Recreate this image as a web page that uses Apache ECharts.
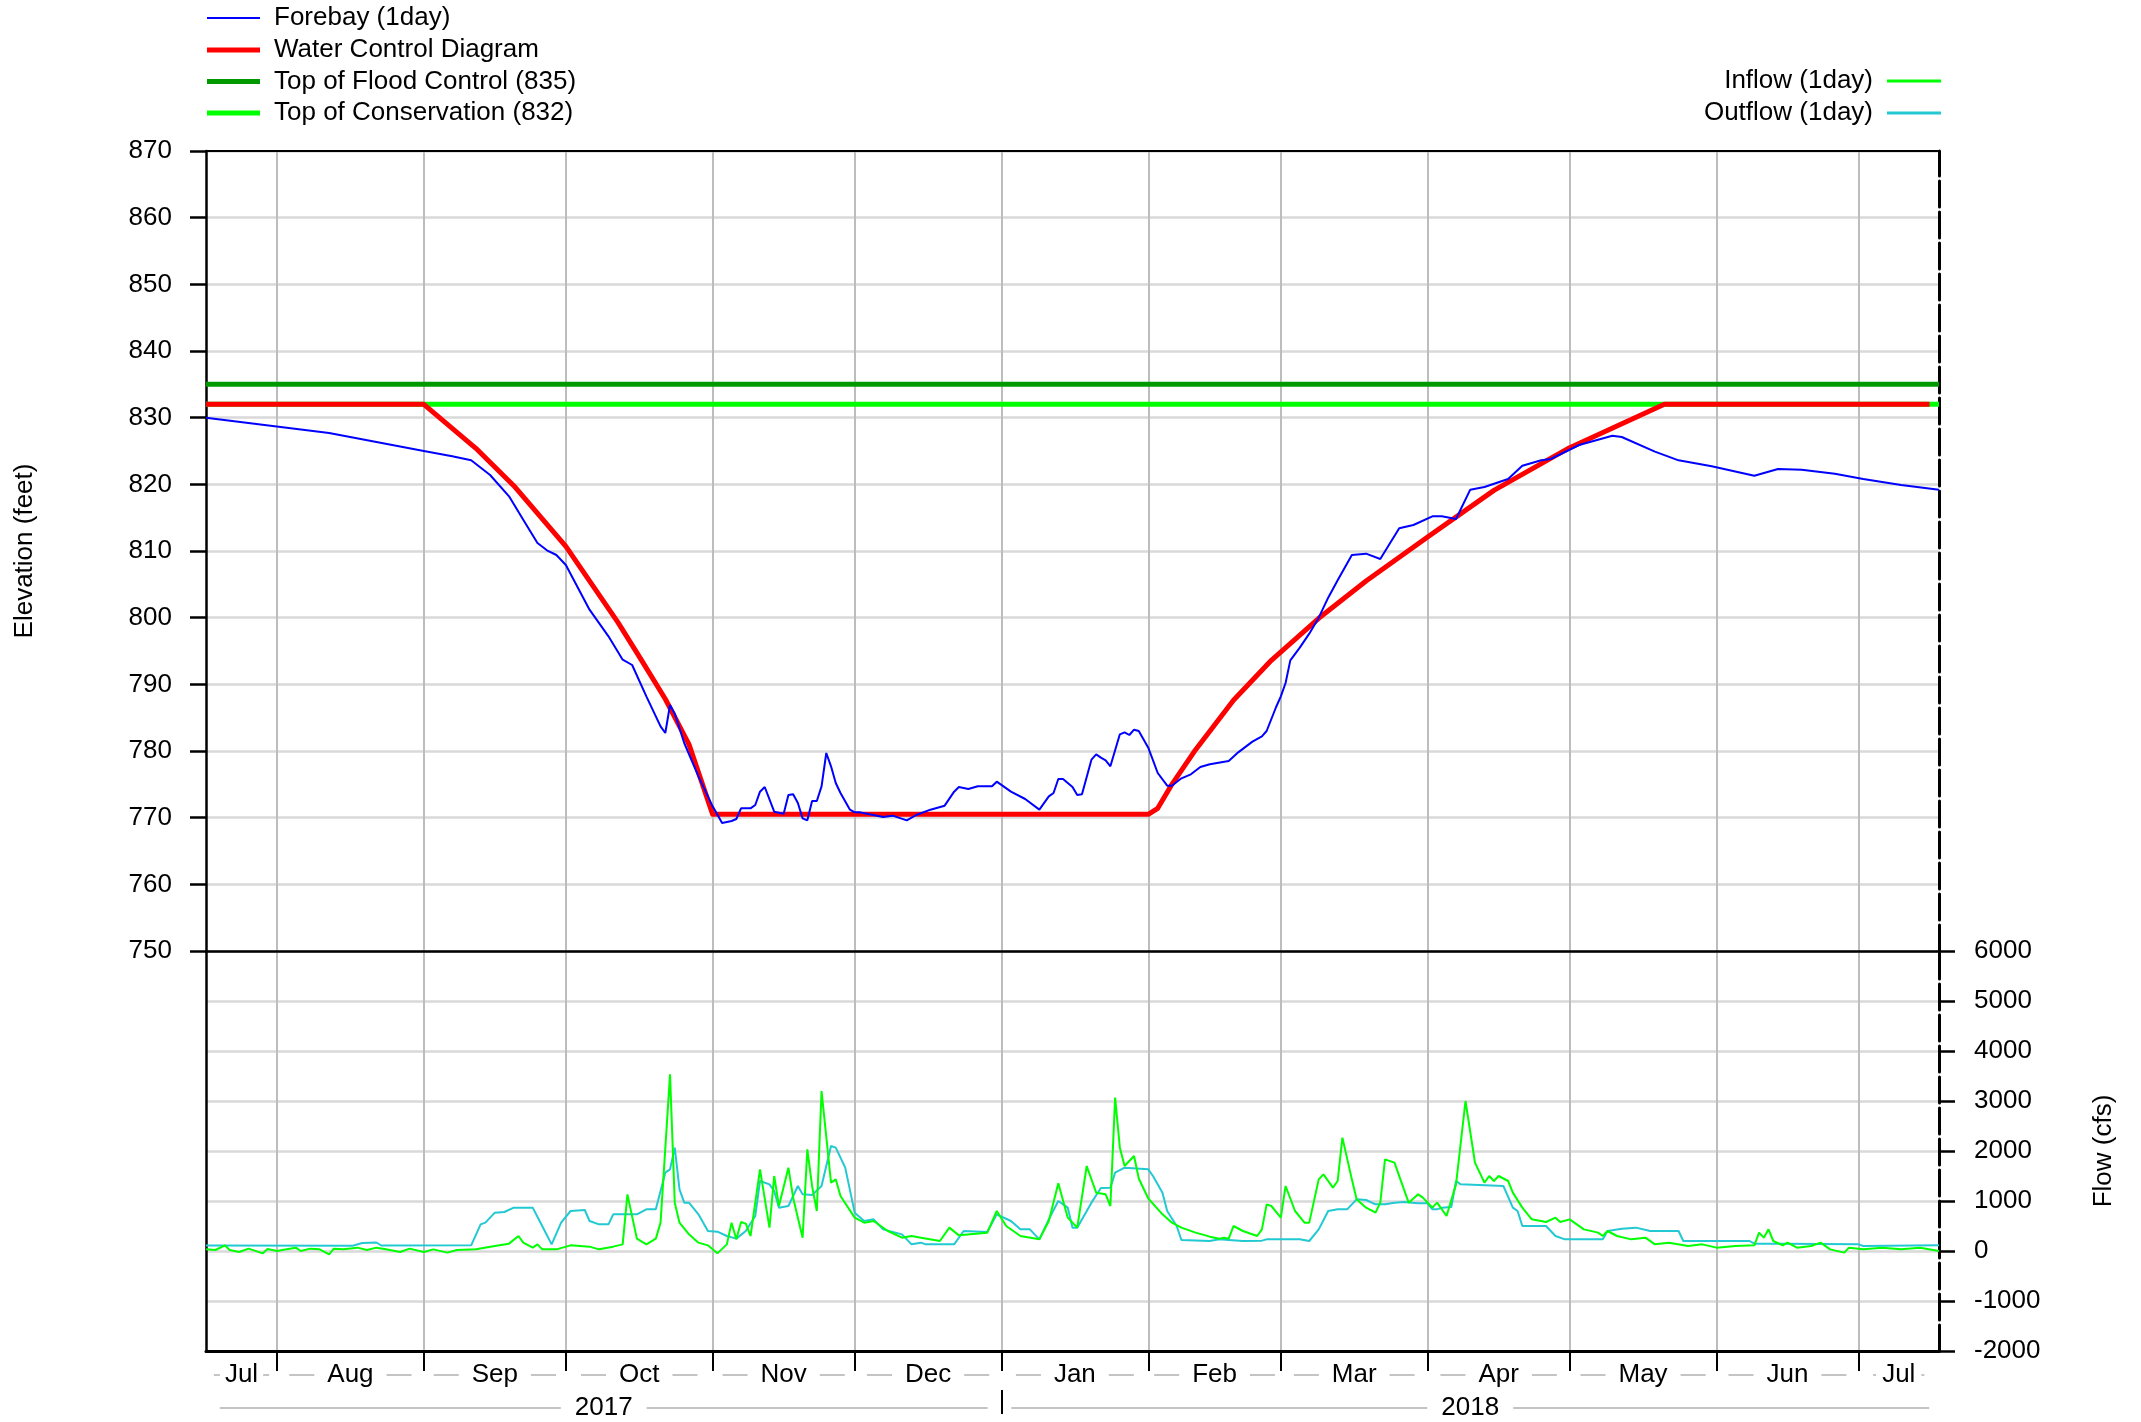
<!DOCTYPE html>
<html><head><meta charset="utf-8">
<script src="https://cdn.jsdelivr.net/npm/echarts@6/dist/echarts.min.js"></script>
<style>html,body{margin:0;padding:0;background:#fff}#c{width:2141px;height:1422px}</style>
</head><body><div id="c"></div>
<script>
// ---------- data ----------
const startDate = '2017-07-17';
const endDate = '2018-07-18';
const monthStarts = ['2017-08-01','2017-09-01','2017-10-01','2017-11-01','2017-12-01','2018-01-01','2018-02-01','2018-03-01','2018-04-01','2018-05-01','2018-06-01','2018-07-01'];
const monthLabels = ['Jul','Aug','Sep','Oct','Nov','Dec','Jan','Feb','Mar','Apr','May','Jun','Jul'];
const yearBoundaries = ['2018-01-01'];
const yearLabels = ['2017','2018'];

const forebayDates = ['2017-07-17','2017-08-12','2017-09-01','2017-09-07','2017-09-11','2017-09-15','2017-09-19','2017-09-22','2017-09-25','2017-09-27','2017-09-29','2017-10-01','2017-10-06','2017-10-10','2017-10-13','2017-10-15','2017-10-18','2017-10-21','2017-10-22','2017-10-23','2017-10-24','2017-10-26','2017-10-29','2017-11-01','2017-11-03','2017-11-05','2017-11-06','2017-11-07','2017-11-09','2017-11-10','2017-11-11','2017-11-12','2017-11-14','2017-11-16','2017-11-17','2017-11-18','2017-11-19','2017-11-20','2017-11-21','2017-11-22','2017-11-23','2017-11-24','2017-11-25','2017-11-26','2017-11-27','2017-11-28','2017-11-30','2017-12-01','2017-12-02','2017-12-07','2017-12-09','2017-12-12','2017-12-14','2017-12-17','2017-12-20','2017-12-22','2017-12-23','2017-12-25','2017-12-27','2017-12-30','2017-12-31','2018-01-03','2018-01-06','2018-01-09','2018-01-11','2018-01-12','2018-01-13','2018-01-14','2018-01-16','2018-01-17','2018-01-18','2018-01-20','2018-01-21','2018-01-22','2018-01-23','2018-01-24','2018-01-26','2018-01-27','2018-01-28','2018-01-29','2018-01-30','2018-02-01','2018-02-03','2018-02-05','2018-02-06','2018-02-08','2018-02-10','2018-02-12','2018-02-14','2018-02-18','2018-02-20','2018-02-23','2018-02-25','2018-02-26','2018-02-28','2018-03-01','2018-03-02','2018-03-03','2018-03-05','2018-03-07','2018-03-09','2018-03-11','2018-03-13','2018-03-16','2018-03-19','2018-03-22','2018-03-26','2018-03-29','2018-04-02','2018-04-04','2018-04-07','2018-04-10','2018-04-13','2018-04-18','2018-04-21','2018-04-25','2018-04-27','2018-05-03','2018-05-10','2018-05-12','2018-05-19','2018-05-24','2018-05-31','2018-06-09','2018-06-14','2018-06-19','2018-06-26','2018-07-02','2018-07-10','2018-07-18'];
const forebayValues = [830.0,827.7,825.0,824.2,823.6,821.4,818.2,814.7,811.2,810.1,809.4,807.9,801.2,797.2,793.7,792.9,788.2,783.7,782.7,786.9,785.6,781.2,776.2,771.7,769.2,769.5,769.8,771.4,771.4,771.9,773.9,774.6,770.9,770.6,773.4,773.5,772.2,769.9,769.6,772.5,772.5,774.7,779.7,777.7,775.2,773.7,771.2,770.8,770.8,770.1,770.3,769.6,770.4,771.2,771.8,773.9,774.6,774.3,774.7,774.7,775.4,773.9,772.8,771.2,773.2,773.7,775.8,775.8,774.6,773.4,773.5,778.7,779.5,779.0,778.6,777.7,782.5,782.8,782.4,783.2,783.0,780.5,776.7,774.8,774.8,775.9,776.5,777.6,778.0,778.5,779.8,781.4,782.2,783.0,786.6,788.2,790.2,793.6,795.5,797.6,800.0,803.0,805.6,809.4,809.6,808.8,813.4,813.9,815.2,815.2,814.8,819.2,819.6,820.8,822.8,823.6,823.8,825.9,827.3,827.1,824.9,823.6,822.7,821.3,822.3,822.2,821.6,820.8,819.9,819.2];

const wcdDates = ['2017-07-17','2017-09-01','2017-09-12','2017-09-20','2017-10-01','2017-10-12','2017-10-17','2017-10-22','2017-10-27','2017-11-01','2018-02-01','2018-02-03','2018-02-06','2018-02-11','2018-02-19','2018-02-27','2018-03-09','2018-03-19','2018-04-01','2018-04-15','2018-05-01','2018-05-21','2018-07-16'];
const wcdValues = [832,832,825.4,819.8,810.7,799.3,793.6,787.8,781.0,770.5,770.5,771.4,775.0,780.2,787.6,793.6,799.9,805.5,812.1,819.1,825.5,832,832];

const guideDates = [startDate, endDate];
const floodControlValues = [835, 835];
const conservationValues = [832, 832];

const outflowDates = ['2017-07-17','2017-08-17','2017-08-19','2017-08-22','2017-08-23','2017-09-11','2017-09-13','2017-09-14','2017-09-16','2017-09-18','2017-09-20','2017-09-24','2017-09-26','2017-09-28','2017-09-30','2017-10-02','2017-10-05','2017-10-06','2017-10-08','2017-10-10','2017-10-11','2017-10-16','2017-10-18','2017-10-20','2017-10-22','2017-10-23','2017-10-24','2017-10-25','2017-10-26','2017-10-27','2017-10-29','2017-10-31','2017-11-02','2017-11-04','2017-11-06','2017-11-08','2017-11-10','2017-11-11','2017-11-13','2017-11-14','2017-11-15','2017-11-17','2017-11-19','2017-11-20','2017-11-22','2017-11-24','2017-11-26','2017-11-27','2017-11-29','2017-12-01','2017-12-03','2017-12-05','2017-12-07','2017-12-11','2017-12-13','2017-12-15','2017-12-16','2017-12-22','2017-12-24','2017-12-29','2017-12-31','2018-01-03','2018-01-05','2018-01-07','2018-01-09','2018-01-11','2018-01-13','2018-01-15','2018-01-16','2018-01-17','2018-01-20','2018-01-22','2018-01-24','2018-01-25','2018-01-27','2018-02-01','2018-02-02','2018-02-04','2018-02-05','2018-02-07','2018-02-08','2018-02-14','2018-02-16','2018-02-18','2018-02-21','2018-02-25','2018-02-26','2018-03-05','2018-03-07','2018-03-09','2018-03-11','2018-03-13','2018-03-15','2018-03-17','2018-03-19','2018-03-21','2018-03-23','2018-03-25','2018-03-27','2018-03-30','2018-04-01','2018-04-02','2018-04-03','2018-04-04','2018-04-06','2018-04-07','2018-04-08','2018-04-17','2018-04-19','2018-04-20','2018-04-21','2018-04-26','2018-04-28','2018-04-30','2018-05-08','2018-05-09','2018-05-12','2018-05-15','2018-05-18','2018-05-24','2018-05-25','2018-06-08','2018-06-09','2018-06-15','2018-07-01','2018-07-02','2018-07-18'];
const outflowValues = [110,105,160,170,110,113,533,567,767,780,867,867,500,133,567,800,820,600,533,533,733,733,833,833,1567,1633,2067,1233,967,967,733,400,387,300,247,400,700,1400,1333,1200,867,900,1300,1133,1120,1300,2100,2067,1667,767,600,633,433,333,133,167,133,133,400,380,733,600,433,433,233,633,1000,867,467,467,967,1260,1267,1567,1667,1633,1500,1167,800,500,220,200,233,220,200,207,233,233,200,433,800,833,833,1033,1020,933,933,967,980,953,953,833,833,867,880,1400,1333,1300,867,800,500,500,300,233,233,400,447,467,400,400,200,200,147,147,133,100,113];

const inflowDates = ['2017-07-17','2017-07-19','2017-07-21','2017-07-22','2017-07-24','2017-07-26','2017-07-29','2017-07-30','2017-08-01','2017-08-03','2017-08-05','2017-08-06','2017-08-08','2017-08-10','2017-08-12','2017-08-13','2017-08-15','2017-08-18','2017-08-20','2017-08-22','2017-08-24','2017-08-27','2017-08-29','2017-09-01','2017-09-03','2017-09-06','2017-09-08','2017-09-12','2017-09-16','2017-09-19','2017-09-21','2017-09-22','2017-09-24','2017-09-25','2017-09-26','2017-09-29','2017-10-02','2017-10-06','2017-10-08','2017-10-11','2017-10-13','2017-10-14','2017-10-16','2017-10-18','2017-10-20','2017-10-21','2017-10-23','2017-10-24','2017-10-25','2017-10-27','2017-10-29','2017-10-31','2017-11-02','2017-11-04','2017-11-05','2017-11-06','2017-11-07','2017-11-08','2017-11-09','2017-11-11','2017-11-13','2017-11-14','2017-11-15','2017-11-17','2017-11-18','2017-11-20','2017-11-21','2017-11-22','2017-11-23','2017-11-24','2017-11-26','2017-11-27','2017-11-28','2017-12-01','2017-12-03','2017-12-05','2017-12-08','2017-12-11','2017-12-13','2017-12-15','2017-12-19','2017-12-21','2017-12-23','2017-12-29','2017-12-31','2018-01-02','2018-01-05','2018-01-09','2018-01-11','2018-01-13','2018-01-15','2018-01-17','2018-01-19','2018-01-21','2018-01-23','2018-01-24','2018-01-25','2018-01-26','2018-01-27','2018-01-29','2018-01-30','2018-02-01','2018-02-04','2018-02-06','2018-02-08','2018-02-11','2018-02-14','2018-02-16','2018-02-17','2018-02-18','2018-02-19','2018-02-21','2018-02-24','2018-02-25','2018-02-26','2018-02-27','2018-03-01','2018-03-02','2018-03-04','2018-03-06','2018-03-07','2018-03-09','2018-03-10','2018-03-12','2018-03-13','2018-03-14','2018-03-16','2018-03-17','2018-03-19','2018-03-21','2018-03-22','2018-03-23','2018-03-25','2018-03-27','2018-03-28','2018-03-30','2018-03-31','2018-04-02','2018-04-03','2018-04-05','2018-04-07','2018-04-09','2018-04-11','2018-04-13','2018-04-14','2018-04-15','2018-04-16','2018-04-18','2018-04-19','2018-04-21','2018-04-23','2018-04-26','2018-04-28','2018-04-29','2018-05-01','2018-05-04','2018-05-07','2018-05-08','2018-05-09','2018-05-11','2018-05-14','2018-05-17','2018-05-19','2018-05-22','2018-05-26','2018-05-29','2018-06-01','2018-06-05','2018-06-09','2018-06-10','2018-06-11','2018-06-12','2018-06-13','2018-06-15','2018-06-16','2018-06-18','2018-06-21','2018-06-23','2018-06-25','2018-06-28','2018-06-29','2018-07-02','2018-07-06','2018-07-10','2018-07-14','2018-07-18'];
const inflowValues = [33,20,113,20,-20,47,-47,40,0,33,67,0,47,33,-67,47,33,67,20,67,33,-20,47,-20,33,-33,20,33,100,147,300,167,67,133,33,33,113,87,33,87,133,1133,247,133,247,567,3533,967,567,333,167,113,-47,133,567,233,580,547,300,1633,467,1500,900,1667,1067,267,2033,1300,800,3200,1367,1433,1100,667,567,600,400,267,300,267,200,467,313,367,800,500,300,233,600,1353,667,467,1700,1167,1133,900,3067,2067,1700,1900,1450,1050,733,567,467,367,287,247,267,247,500,400,300,433,933,900,667,1300,800,567,567,1433,1533,1267,1400,2267,1433,1033,867,767,967,1833,1767,1233,967,1133,1067,867,967,700,1333,3000,1767,1367,1500,1400,1500,1400,1167,867,633,580,667,580,633,433,367,300,400,300,233,267,133,167,100,133,67,100,113,367,267,433,200,113,167,67,100,167,33,-33,67,33,67,33,67,0];

// ---------- helpers ----------
const FONT = '"Liberation Sans", Arial, Helvetica, sans-serif';
function ts(s){ const p = s.split('-').map(Number); return new Date(p[0], p[1]-1, p[2]).getTime(); }
function pairs(d, v){ return d.map((x, i) => [ts(x), v[i]]); }
function nearest(arr, v){ let bi = 0, bd = Infinity; arr.forEach((a, i) => { const d = Math.abs(a - v); if (d < bd) { bd = d; bi = i; } }); return bi; }

const xMin = ts(startDate), xMax = ts(endDate);
const monthTicks = monthStarts.map(ts);
const bounds = [xMin, ...monthTicks, xMax];
const monthMid = monthLabels.map((m, i) => (bounds[i] + bounds[i+1]) / 2);
const yBounds = [xMin, ...yearBoundaries.map(ts), xMax];
const yearMid = yearLabels.map((y, i) => (yBounds[i] + yBounds[i+1]) / 2);

const GRID_V = '#bdbdbd', GRID_H = '#d9d9d9', DASH = '#c4c4c4';
const txt = {fontFamily: FONT, fontSize: 26, color: '#000'};

const chart = echarts.init(document.getElementById('c'), null, {renderer: 'canvas'});
const option = {
  animation: false,
  backgroundColor: '#fff',
  textStyle: {fontFamily: FONT},
  grid: [
    {left: 206, right: 202, top: 151, height: 800},
    {left: 206, right: 202, top: 951, height: 400}
  ],
  legend: [
    {data: ['Forebay (1day)'], left: 207, top: 5, orient: 'vertical', icon: 'rect', itemWidth: 53, itemHeight: 2, itemGap: 5.5, padding: 0, selectedMode: false,
     textStyle: Object.assign({lineHeight: 26, padding: [0,0,0,9]}, txt)},
    {data: ['Water Control Diagram','Top of Flood Control (835)','Top of Conservation (832)'], left: 207, top: 37, orient: 'vertical', icon: 'rect', itemWidth: 53, itemHeight: 5, itemGap: 5.5, padding: 0, selectedMode: false,
     textStyle: Object.assign({lineHeight: 26, padding: [0,0,0,9]}, txt)},
    {data: ['Inflow (1day)','Outflow (1day)'], right: 200, top: 68, orient: 'vertical', align: 'right', icon: 'rect', itemWidth: 54, itemHeight: 3, itemGap: 6, padding: 0, selectedMode: false,
     textStyle: Object.assign({lineHeight: 26, padding: [0,9,0,0]}, txt)}
  ],
  xAxis: [
    {gridIndex: 0, type: 'value', min: xMin, max: xMax, position: 'bottom',
     axisLine: {show: true, onZero: false, lineStyle: {color: '#000', width: 2.5}},
     axisTick: {show: false, customValues: monthTicks}, axisLabel: {show: false},
     splitLine: {show: true, lineStyle: {color: GRID_V, width: 2}}},
    {gridIndex: 0, type: 'value', min: xMin, max: xMax, position: 'top',
     axisLine: {show: true, onZero: false, lineStyle: {color: '#000', width: 2}},
     axisTick: {show: false}, axisLabel: {show: false}, splitLine: {show: false}},
    {gridIndex: 1, type: 'value', min: xMin, max: xMax, position: 'bottom',
     axisLine: {show: true, onZero: false, lineStyle: {color: '#000', width: 3}},
     axisTick: {show: true, customValues: monthTicks, length: 20, lineStyle: {color: '#000', width: 2}},
     axisLabel: {show: true, customValues: monthMid, margin: 9, hideOverlap: false,
       formatter: function (v) {
         const i = nearest(monthMid, v), lab = monthLabels[i];
         if (i === 0) return '{s1|}{p1|' + lab + '}{s1|}';
         if (i === monthLabels.length - 1) return '{s2|}{p2|' + lab + '}{s2|}';
         return '{d|}{m|' + lab + '}{d|}';
       },
       rich: {
         d: {width: 25, height: 2, backgroundColor: DASH, verticalAlign: 'middle'},
         s1: {width: 6, height: 2, backgroundColor: DASH, verticalAlign: 'middle'},
         s2: {width: 3, height: 2, backgroundColor: DASH, verticalAlign: 'middle'},
         m: Object.assign({padding: [0,13], lineHeight: 30, verticalAlign: 'middle'}, txt),
         p1: Object.assign({padding: [0,5], lineHeight: 30, verticalAlign: 'middle'}, txt),
         p2: Object.assign({padding: [0,6], lineHeight: 30, verticalAlign: 'middle'}, txt)
       }},
     splitLine: {show: true, lineStyle: {color: GRID_V, width: 2}}},
    {gridIndex: 1, type: 'value', min: xMin, max: xMax, position: 'bottom', offset: 39,
     axisLine: {show: false, onZero: false},
     axisTick: {show: true, customValues: yearBoundaries.map(ts), length: 24, lineStyle: {color: '#000', width: 2}},
     axisLabel: {show: true, customValues: yearMid, margin: 3, hideOverlap: false,
       formatter: function (v) {
         const i = nearest(yearMid, v);
         return i === 0 ? '{l1|}{y|' + yearLabels[0] + '}{l1|}' : '{l2|}{y|' + yearLabels[1] + '}{l2|}';
       },
       rich: {
         l1: {width: 341, height: 2, backgroundColor: DASH, verticalAlign: 'middle'},
         l2: {width: 416, height: 2, backgroundColor: DASH, verticalAlign: 'middle'},
         y: Object.assign({padding: [0,14], lineHeight: 30, verticalAlign: 'middle'}, txt)
       }},
     splitLine: {show: false}}
  ],
  yAxis: [
    {gridIndex: 0, type: 'value', min: 750, max: 870, interval: 10, position: 'left',
     name: 'Elevation (feet)', nameLocation: 'middle', nameGap: 168, nameRotate: 90, nameTextStyle: txt,
     axisLine: {show: true, lineStyle: {color: '#000', width: 2.5}},
     axisTick: {show: true, length: 16, lineStyle: {color: '#000', width: 2.5}},
     axisLabel: Object.assign({margin: 34}, txt),
     splitLine: {show: true, lineStyle: {color: GRID_H, width: 2.5}}},
    {gridIndex: 0, type: 'value', min: 0, max: 1, position: 'right',
     axisLine: {show: true, lineStyle: {color: '#000', width: 3, type: [26, 5]}},
     axisTick: {show: false}, axisLabel: {show: false}, splitLine: {show: false}},
    {gridIndex: 1, type: 'value', min: -2000, max: 6000, interval: 1000, position: 'right',
     name: 'Flow (cfs)', nameLocation: 'middle', nameGap: 152, nameRotate: 90, nameTextStyle: txt,
     axisLine: {show: true, lineStyle: {color: '#000', width: 3, type: [26, 5]}},
     axisTick: {show: true, length: 16, lineStyle: {color: '#000', width: 2.5}},
     axisLabel: Object.assign({margin: 35, formatter: function (v) { return String(v); }}, txt),
     splitLine: {show: true, lineStyle: {color: GRID_H, width: 2.5}}},
    {gridIndex: 1, type: 'value', min: 0, max: 1, position: 'left',
     axisLine: {show: true, lineStyle: {color: '#000', width: 2.5}},
     axisTick: {show: false}, axisLabel: {show: false}, splitLine: {show: false}}
  ],
  series: [
    {name: 'Forebay (1day)', type: 'line', xAxisIndex: 0, yAxisIndex: 0, data: pairs(forebayDates, forebayValues),
     symbol: 'none', color: '#0000ff', lineStyle: {color: '#0000ff', width: 2}, z: 6},
    {name: 'Water Control Diagram', type: 'line', xAxisIndex: 0, yAxisIndex: 0, data: pairs(wcdDates, wcdValues),
     symbol: 'none', color: '#ff0000', lineStyle: {color: '#ff0000', width: 5, join: 'round'}, z: 5},
    {name: 'Top of Flood Control (835)', type: 'line', xAxisIndex: 0, yAxisIndex: 0, data: pairs(guideDates, floodControlValues),
     symbol: 'none', color: '#009a00', lineStyle: {color: '#009a00', width: 5}, z: 3},
    {name: 'Top of Conservation (832)', type: 'line', xAxisIndex: 0, yAxisIndex: 0, data: pairs(guideDates, conservationValues),
     symbol: 'none', color: '#00ff00', lineStyle: {color: '#00ff00', width: 5}, z: 3},
    {name: 'Inflow (1day)', type: 'line', xAxisIndex: 2, yAxisIndex: 2, data: pairs(inflowDates, inflowValues),
     symbol: 'none', color: '#00ff00', lineStyle: {color: '#00ff00', width: 2}, z: 4},
    {name: 'Outflow (1day)', type: 'line', xAxisIndex: 2, yAxisIndex: 2, data: pairs(outflowDates, outflowValues),
     symbol: 'none', color: '#22c9d3', lineStyle: {color: '#22c9d3', width: 2}, z: 3}
  ]
};
chart.setOption(option);
</script>
</body></html>
